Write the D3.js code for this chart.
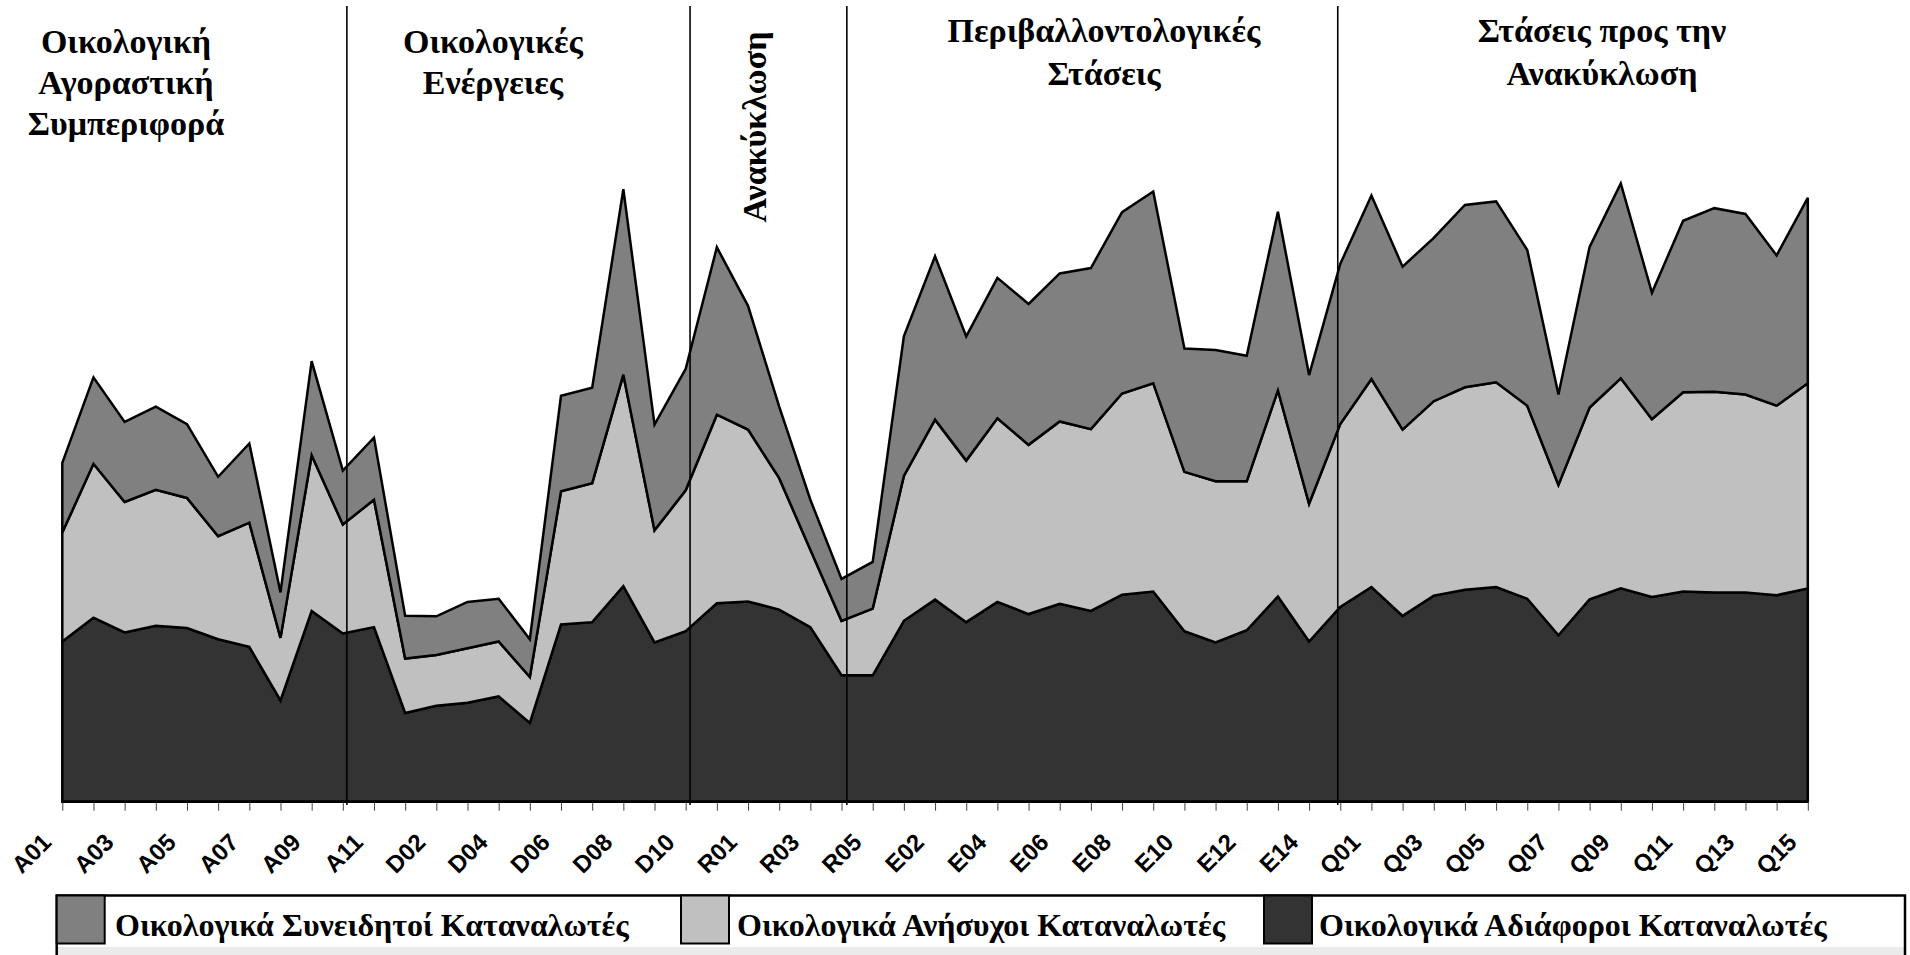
<html>
<head>
<meta charset="utf-8">
<script src="https://d3js.org/d3.v7.min.js"></script>
<style>
body { margin: 0; background: #fff; }
svg { display: block; }
.cat-label { font-family: "Liberation Sans", Arial, sans-serif; font-weight: bold; font-size: 24px; }
.section { font-family: "Liberation Serif", "Times New Roman", serif; font-weight: bold; font-size: 34px; }
.leg-text { font-family: "Liberation Serif", "Times New Roman", serif; font-weight: bold; font-size: 32px; }
</style>
</head>
<body>
<svg width=1910 height=955></svg>

<script>
// question codes, in order
var categories = [
  "A01","A02","A03","A04","A05","A06","A07","A08","A09","A10","A11",
  "D01","D02","D03","D04","D05","D06","D07","D08","D09","D10","D11",
  "R01","R02","R03","R04","R05",
  "E01","E02","E03","E04","E05","E06","E07","E08","E09","E10","E11","E12","E13","E14","E15",
  "Q01","Q02","Q03","Q04","Q05","Q06","Q07","Q08","Q09","Q10","Q11","Q12","Q13","Q14","Q15"
];

// labels written under the axis (every second code)
var tickLabels = ["A01","A03","A05","A07","A09","A11","D02","D04","D06","D08","D10",
  "R01","R03","R05","E02","E04","E06","E08","E10","E12","E14",
  "Q01","Q03","Q05","Q07","Q09","Q11","Q13","Q15"];

// bottom layer
var adiaforoi = [3.56,4.09,3.76,3.91,3.86,3.61,3.44,2.25,4.24,3.74,3.88,
  1.97,2.13,2.20,2.34,1.75,3.94,3.99,4.79,3.54,3.79,4.41,
  4.45,4.27,3.88,2.81,2.81,
  4.02,4.49,3.99,4.44,4.17,4.40,4.24,4.60,4.67,3.79,3.54,3.81,4.56,3.56,4.33,
  4.77,4.13,4.58,4.71,4.77,4.51,3.70,4.50,4.74,4.55,4.67,4.65,4.65,4.59,4.74];

// middle layer
var anisyxoi = [2.42,3.42,2.90,3.02,2.89,2.29,2.76,1.39,3.46,2.42,2.83,
  1.21,1.13,1.21,1.22,1.02,2.96,3.09,4.70,2.49,3.13,4.19,
  3.82,2.92,1.72,1.21,1.48,
  3.22,4.00,3.59,4.08,3.76,4.05,4.04,4.47,4.63,3.54,3.58,3.31,4.58,3.06,4.06,
  4.62,4.14,4.32,4.50,4.55,4.29,3.34,4.26,4.67,3.95,4.43,4.46,4.40,4.21,4.56];

// top layer
var syneidhtoi = [1.55,1.92,1.78,1.85,1.64,1.32,1.76,1.01,2.09,1.20,1.38,
  0.95,0.86,1.03,0.95,0.84,2.12,2.12,4.12,2.35,2.70,3.72,
  2.75,1.59,1.11,0.93,1.04,
  3.10,3.63,2.76,3.12,3.13,3.29,3.58,4.03,4.26,2.74,2.92,2.79,3.97,2.86,3.56,
  4.08,3.62,3.63,4.05,4.02,3.46,2.01,3.57,4.33,2.81,3.81,4.08,4.01,3.34,4.12];

var seriesKeys = ["adiaforoi", "anisyxoi", "syneidhtoi"];
var seriesNames = {
  adiaforoi: "Οικολογικά Αδιάφοροι Καταναλωτές",
  anisyxoi: "Οικολογικά Ανήσυχοι Καταναλωτές",
  syneidhtoi: "Οικολογικά Συνειδητοί Καταναλωτές"
};
var seriesColors = { adiaforoi: "#333333", anisyxoi: "#c0c0c0", syneidhtoi: "#808080" };

var sectionTitles = [
  ["Οικολογική", "Αγοραστική", "Συμπεριφορά"],
  ["Οικολογικές", "Ενέργειες"],
  ["Ανακύκλωση"],
  ["Περιβαλλοντολογικές", "Στάσεις"],
  ["Στάσεις προς την", "Ανακύκλωση"]
];

// section separators, in category steps from A01
var dividers = [9.13, 20.14, 25.17, 40.92];

var svg = d3.select("svg");

var x = d3.scalePoint()
  .domain(categories)
  .range([62.3, 1807.8]);

var y = d3.scaleLinear()
  .domain([0, 14])
  .range([801.7, 171.7]);

var rows = categories.map(function(c, i) {
  return { cat: c, adiaforoi: adiaforoi[i], anisyxoi: anisyxoi[i], syneidhtoi: syneidhtoi[i] };
});

var stacked = d3.stack().keys(seriesKeys)(rows);

var area = d3.area()
  .x(function(d) { return x(d.data.cat); })
  .y0(function(d) { return y(d[0]); })
  .y1(function(d) { return y(d[1]); });

svg.append("g")
  .selectAll("path")
  .data(stacked)
  .enter()
  .append("path")
  .attr("d", area)
  .attr("fill", function(d) { return seriesColors[d.key]; })
  .attr("stroke", "#000")
  .attr("stroke-width", 2.5)
  .attr("stroke-linejoin", "miter");

// tick marks for every category
var tickAxis = svg.append("g")
  .attr("transform", "translate(0,801.7)")
  .call(d3.axisBottom(x).tickSize(9).tickFormat(""));
tickAxis.select(".domain").remove();
tickAxis.selectAll(".tick line").attr("stroke", "#444").attr("stroke-width", 1);

// rotated labels
var labelAxis = svg.append("g")
  .attr("transform", "translate(0,801.7)")
  .call(d3.axisBottom(x).tickValues(tickLabels).tickSize(0));
labelAxis.select(".domain").remove();
labelAxis.selectAll(".tick text")
  .attr("class", "cat-label")
  .attr("fill", "#000")
  .attr("x", 0).attr("y", 0).attr("dy", 0)
  .attr("text-anchor", "end")
  .attr("transform", "translate(-10,42) rotate(-45)");

// bottom axis line
svg.append("line")
  .attr("x1", x(categories[0])).attr("x2", x(categories[categories.length - 1]))
  .attr("y1", y(0)).attr("y2", y(0))
  .attr("stroke", "#000").attr("stroke-width", 2.5);

// section separators
svg.append("g")
  .selectAll("line")
  .data(dividers)
  .enter()
  .append("line")
  .attr("x1", function(d) { return x(categories[0]) + d * x.step(); })
  .attr("x2", function(d) { return x(categories[0]) + d * x.step(); })
  .attr("y1", 6)
  .attr("y2", 805)
  .attr("stroke", "#000")
  .attr("stroke-width", 1.6);

// section titles
var titlePos = [
  { cx: 126, y0: 53, gap: 41 },
  { cx: 493, y0: 53, gap: 41 },
  null,
  { cx: 1104, y0: 42, gap: 43 },
  { cx: 1602, y0: 42, gap: 43 }
];
sectionTitles.forEach(function(lines, i) {
  var p = titlePos[i];
  if (!p) return;
  lines.forEach(function(t, j) {
    svg.append("text")
      .attr("class", "section")
      .attr("x", p.cx)
      .attr("y", p.y0 + j * p.gap)
      .attr("text-anchor", "middle")
      .text(t);
  });
});
// the narrow recycling section gets a vertical title
svg.append("text")
  .attr("class", "section")
  .attr("text-anchor", "middle")
  .attr("transform", "translate(766,127) rotate(-90)")
  .text(sectionTitles[2][0]);

// legend
var legend = svg.append("g");
legend.append("rect")
  .attr("x", 58).attr("y", 947)
  .attr("width", 1846).attr("height", 12)
  .attr("fill", "#ebebeb");
legend.append("rect")
  .attr("x", 56.7).attr("y", 895.5)
  .attr("width", 1848.3).attr("height", 80)
  .attr("fill", "none")
  .attr("stroke", "#000").attr("stroke-width", 2.5);

var legendOrder = ["syneidhtoi", "anisyxoi", "adiaforoi"];
var legendX = [56.7, 681, 1264];
var legendTextX = [115, 737, 1319];
legendOrder.forEach(function(k, i) {
  legend.append("rect")
    .attr("x", legendX[i]).attr("y", 895.5)
    .attr("width", 48).attr("height", 48)
    .attr("fill", seriesColors[k])
    .attr("stroke", "#000").attr("stroke-width", 2);
  legend.append("text")
    .attr("class", "leg-text")
    .attr("x", legendTextX[i])
    .attr("y", 936)
    .text(seriesNames[k]);
});
</script>
</body>
</html>
